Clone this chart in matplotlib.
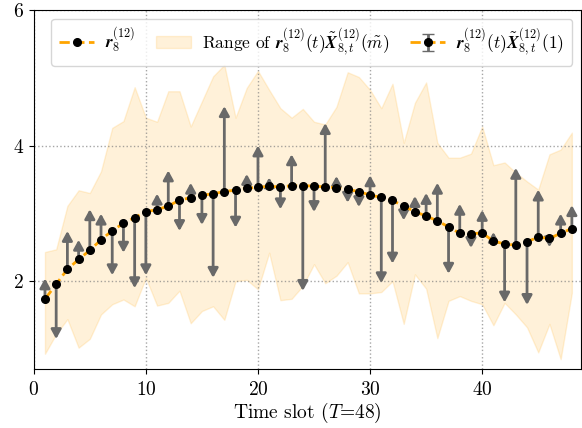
import numpy as np
import matplotlib
matplotlib.use('Agg')
import matplotlib.pyplot as plt

plt.rcParams['font.family'] = 'serif'
plt.rcParams['font.serif'] = ['cmr10']
plt.rcParams['mathtext.fontset'] = 'cm'
plt.rcParams['axes.formatter.use_mathtext'] = True

# time slots
t = np.arange(1, 49)

# r_8^(12)
r_vals = [1.735, 1.956, 2.176, 2.32, 2.456, 2.61, 2.745, 2.853, 2.937, 3.025,
          3.054, 3.107, 3.196, 3.23, 3.265, 3.29, 3.32, 3.343, 3.368, 3.387,
          3.397, 3.39, 3.407, 3.41, 3.40, 3.39, 3.378, 3.353, 3.32, 3.27,
          3.235, 3.19, 3.107, 3.025, 2.96, 2.89, 2.80, 2.706, 2.70, 2.71,
          2.59, 2.55, 2.53, 2.58, 2.65, 2.63, 2.706, 2.775]

# r(t) X(1) -> arrow tips
x1_vals = [2.04, 1.147, 2.74, 2.61, 3.06, 2.995, 2.088, 2.42, 1.897, 2.088,
           3.29, 3.632, 2.74, 3.45, 2.83, 2.05, 4.58, 2.79, 3.58, 4.0,
           3.53, 3.06, 3.87, 1.857, 3.02, 4.33, 3.55, 3.157, 3.093, 3.56,
           1.97, 2.26, 2.897, 3.255, 3.30, 3.45, 2.11, 3.14, 2.49, 3.05,
           2.725, 1.686, 3.67, 1.65, 3.35, 2.50, 2.995, 3.12]

# range of r(t) X(m)
range_hi = [2.43, 2.47, 3.11, 3.34, 3.30, 3.62, 4.26, 4.36, 4.86, 4.41,
            4.35, 4.80, 4.80, 4.28, 4.65, 5.02, 5.19, 4.41, 4.85, 5.10,
            4.82, 4.55, 4.41, 4.54, 4.35, 4.31, 4.57, 5.08, 5.01, 4.82,
            4.55, 4.91, 4.04, 4.63, 4.93, 4.04, 3.82, 3.82, 3.88, 4.28,
            3.71, 3.75, 3.60, 3.47, 3.35, 3.87, 3.94, 4.19]
range_lo = [0.93, 1.22, 1.44, 1.02, 1.15, 1.51, 1.66, 1.73, 1.63, 2.05,
            1.64, 1.68, 1.86, 1.38, 1.56, 1.63, 1.43, 2.00, 2.02, 1.88,
            2.42, 1.72, 1.74, 1.93, 2.25, 1.97, 2.08, 2.28, 1.82, 1.82,
            1.84, 2.00, 1.37, 2.10, 1.89, 1.16, 1.71, 1.78, 1.71, 1.66,
            1.35, 1.68, 1.51, 1.32, 0.95, 1.37, 0.85, 1.83]

lbl_r = r'$\mathbfit{r}_8^{(12)}$'
lbl_range = r'Range of $\mathbfit{r}_8^{(12)}(t)\tilde{\mathbfit{X}}_{8,t}^{(12)}(\tilde{m})$'
lbl_x1 = r'$\mathbfit{r}_8^{(12)}(t)\tilde{\mathbfit{X}}_{8,t}^{(12)}(1)$'

fig = plt.figure(figsize=(5.82, 4.28), dpi=100)
ax = fig.add_axes([0.058, 0.137, 0.94, 0.84])

band = ax.fill_between(t, range_lo, range_hi, color='orange', alpha=0.15, lw=1,
                       label=lbl_range, zorder=1)

for ti, r0, x1 in zip(t, r_vals, x1_vals):
    ax.annotate('', xy=(ti, x1), xytext=(ti, r0),
                arrowprops=dict(arrowstyle='-|>,head_length=0.55,head_width=0.3',
                                color='dimgray', lw=2, mutation_scale=10,
                                shrinkA=0, shrinkB=0), zorder=2)

line, = ax.plot(t, r_vals, ls='--', color='orange', lw=2, marker='o', ms=5.5,
                mfc='k', mec='k', label=lbl_r, zorder=3)

# proxy for the legend entry of the arrows
eb = ax.errorbar([np.nan], [np.nan], yerr=[[0.0], [0.0]], fmt='o', ls='--', color='orange',
                 lw=2, ms=5.5, mfc='k', mec='k', ecolor='dimgray', elinewidth=2,
                 capsize=4, label=lbl_x1)

ax.set_xlim(0, 48.8)
ax.set_ylim(0.7, 6)
ax.set_xticks([0, 10, 20, 30, 40])
ax.set_yticks([2, 4, 6])
ax.tick_params(labelsize=14)
ax.tick_params(axis='x', pad=5)
ax.grid(True, ls=':', color='gray', lw=1, alpha=0.7)
ax.set_xlabel(r'Time slot ($T$=48)', fontsize=14, labelpad=1)
ax.legend([line, band, eb], [lbl_r, lbl_range, lbl_x1], loc='upper right', ncol=3,
          fontsize=12.5, handlelength=2.0, columnspacing=1.2, handletextpad=0.65,
          borderpad=0.45)

plt.savefig('out.png', dpi=100)
